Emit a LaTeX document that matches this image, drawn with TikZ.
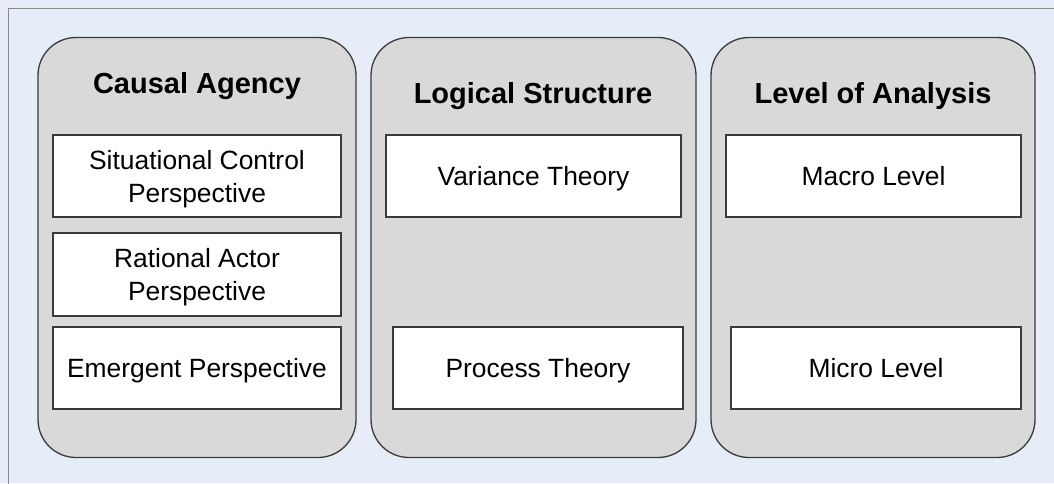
\documentclass[tikz,border=0pt]{standalone}
\usepackage{fontspec}
\setmainfont{Liberation Sans}
\definecolor{bgblue}{HTML}{E7EDF8}
\definecolor{panelgray}{HTML}{D9D9D9}
\definecolor{framegray}{HTML}{8A8A8A}
\definecolor{edgedark}{HTML}{3A3A3A}
% one text line with a fixed height and depth, so lines sit centred
\newcommand\tx[1]{\raisebox{0pt}[0.76em][0.04em]{#1}}
\tikzset{
  panel/.style={draw=edgedark, line width=1.3pt, fill=panelgray, rounded corners=38pt},
  item/.style={draw=edgedark, line width=1.1pt, fill=white, align=center,
    font=\fontsize{26.4}{33}\selectfont, inner sep=0pt},
  title/.style={font=\fontsize{29}{35}\selectfont\bfseries, inner sep=0pt}
}
\begin{document}
\begin{tikzpicture}[x=1pt, y=-1pt]
\useasboundingbox (0,0) rectangle (1054,483);
\fill[bgblue] (0,0) rectangle (1054,483);
\draw[framegray, line width=1pt] (8.5,8.5) rectangle (1070,500);

% three columns
\draw[panel] (38,37.5) rectangle (356,457.5);
\draw[panel] (371,37.5) rectangle (696,457.5);
\draw[panel] (711,37.5) rectangle (1035,457.5);

\node[title] (tca) at (197,83) {\tx{Causal Agency}};
\node[title] (tls) at (533,93) {\tx{Logical Structure}};
\node[title] (tla) at (873,93) {\tx{Level of Analysis}};

% causal agency
\node[item, minimum width=288pt, minimum height=82pt] (scp) at (197,176) {\tx{Situational Control}\\\tx{Perspective}};
\node[item, minimum width=288pt, minimum height=83pt] (rap) at (197,274.5) {\tx{Rational Actor}\\\tx{Perspective}};
\node[item, minimum width=288pt, minimum height=82pt] (emp) at (197,368) {\tx{Emergent Perspective}};

% logical structure
\node[item, minimum width=295pt, minimum height=82pt] (var) at (533.5,176) {\tx{Variance Theory}};
\node[item, minimum width=290pt, minimum height=82pt] (pro) at (538,368) {\tx{Process Theory}};

% level of analysis
\node[item, minimum width=295pt, minimum height=82pt] (mac) at (873.5,176) {\tx{Macro Level}};
\node[item, minimum width=290pt, minimum height=82pt] (mic) at (876,368) {\tx{Micro Level}};
\end{tikzpicture}
\end{document}
